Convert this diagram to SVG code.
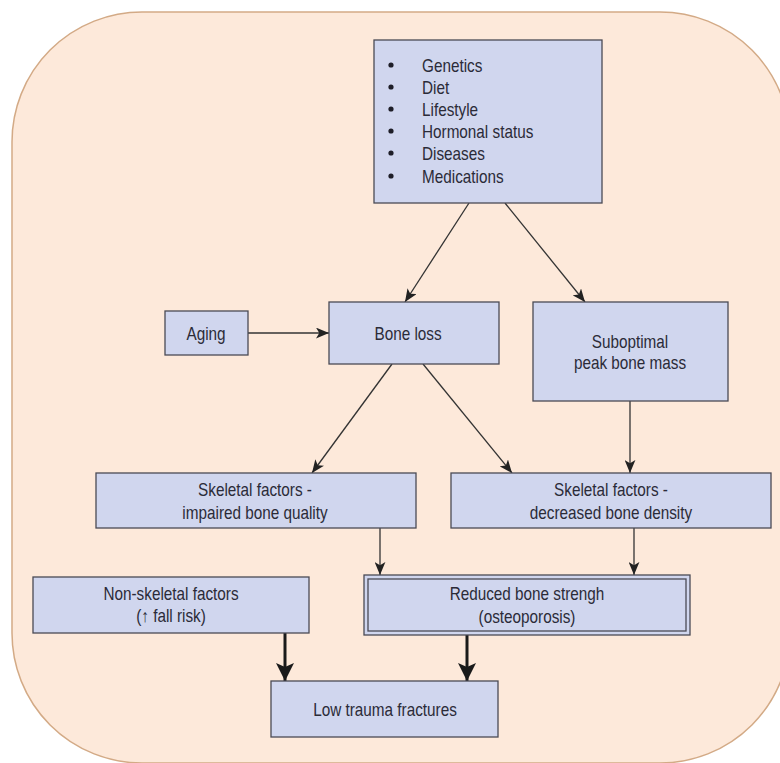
<svg xmlns="http://www.w3.org/2000/svg" width="780" height="763" viewBox="0 0 780 763">
<style>
.bg{fill:#fde9da;stroke:#d3aa86;stroke-width:1.5}
.box{fill:#d0d6ee;stroke:#4a4a55;stroke-width:1.3}
.t{font-family:"Liberation Sans",Arial,sans-serif;font-size:18px;fill:#2b2b38;text-anchor:middle}
.tl{text-anchor:start}
.c{stroke:#333;stroke-width:1.3;fill:none}
.ck{stroke:#1a1a1a;stroke-width:3;fill:none}
</style>
<defs>
<marker id="a" viewBox="0 0 12 10" refX="12" refY="5" markerWidth="13" markerHeight="11" markerUnits="userSpaceOnUse" orient="auto">
<path d="M0,0 L12,5 L0,10 L3,5 Z" fill="#222"/>
</marker>
<marker id="ak" viewBox="0 0 18 18" refX="18" refY="9" markerWidth="20" markerHeight="18" markerUnits="userSpaceOnUse" orient="auto">
<path d="M0,0 L18,9 L0,18 L4,9 Z" fill="#1a1a1a"/>
</marker>
</defs>
<rect class="bg" x="12" y="12" width="778" height="751" rx="130" ry="130"/>
<g id="connectors">
<line class="c" x1="469" y1="203" x2="405" y2="302" marker-end="url(#a)"/>
<line class="c" x1="505" y1="203" x2="585" y2="302" marker-end="url(#a)"/>
<line class="c" x1="248" y1="333" x2="329" y2="333" marker-end="url(#a)"/>
<line class="c" x1="392" y1="364" x2="312" y2="473" marker-end="url(#a)"/>
<line class="c" x1="423" y1="364" x2="512" y2="473" marker-end="url(#a)"/>
<line class="c" x1="630" y1="401" x2="630" y2="473" marker-end="url(#a)"/>
<line class="c" x1="380" y1="528" x2="380" y2="575" marker-end="url(#a)"/>
<line class="c" x1="634" y1="528" x2="634" y2="575" marker-end="url(#a)"/>
<line class="ck" x1="285" y1="633" x2="285" y2="681" marker-end="url(#ak)"/>
<line class="ck" x1="467" y1="635" x2="467" y2="681" marker-end="url(#ak)"/>
</g>
<g id="factors">
<rect class="box" x="374" y="40" width="228" height="163"/>
<g fill="#1e1e28"><circle cx="391" cy="65" r="2.6"/><circle cx="391" cy="87" r="2.6"/><circle cx="391" cy="109" r="2.6"/><circle cx="391" cy="131" r="2.6"/><circle cx="391" cy="153" r="2.6"/><circle cx="391" cy="176" r="2.6"/></g>
<text class="t tl" transform="translate(422,72) scale(0.85,1)">Genetics</text>
<text class="t tl" transform="translate(422,94) scale(0.85,1)">Diet</text>
<text class="t tl" transform="translate(422,116) scale(0.85,1)">Lifestyle</text>
<text class="t tl" transform="translate(422,138) scale(0.85,1)">Hormonal status</text>
<text class="t tl" transform="translate(422,160) scale(0.85,1)">Diseases</text>
<text class="t tl" transform="translate(422,183) scale(0.85,1)">Medications</text>
</g>
<g id="aging">
<rect class="box" x="165" y="311" width="83" height="44"/>
<text class="t" transform="translate(206,340) scale(0.85,1)">Aging</text>
</g>
<g id="boneloss">
<rect class="box" x="329" y="302" width="170" height="62"/>
<text class="t" transform="translate(408,340) scale(0.85,1)">Bone loss</text>
</g>
<g id="suboptimal">
<rect class="box" x="533" y="302" width="195" height="99"/>
<text class="t" transform="translate(630,348) scale(0.85,1)">Suboptimal</text>
<text class="t" transform="translate(630,369) scale(0.85,1)">peak bone mass</text>
</g>
<g id="impaired">
<rect class="box" x="96" y="473" width="320" height="55"/>
<text class="t" transform="translate(255,496) scale(0.85,1)">Skeletal factors -</text>
<text class="t" transform="translate(255,519) scale(0.85,1)">impaired bone quality</text>
</g>
<g id="decreased">
<rect class="box" x="451" y="473" width="320" height="55"/>
<text class="t" transform="translate(611,496) scale(0.85,1)">Skeletal factors -</text>
<text class="t" transform="translate(611,519) scale(0.85,1)">decreased bone density</text>
</g>
<g id="nonskeletal">
<rect class="box" x="33" y="577" width="276" height="56"/>
<text class="t" transform="translate(171,600) scale(0.85,1)">Non-skeletal factors</text>
<text class="t" transform="translate(171,622) scale(0.85,1)">(↑ fall risk)</text>
</g>
<g id="reduced">
<rect class="box" x="364" y="575" width="326" height="60"/>
<rect class="box" x="368" y="579" width="318" height="52" fill="none"/>
<text class="t" transform="translate(527,600) scale(0.85,1)">Reduced bone strengh</text>
<text class="t" transform="translate(527,623) scale(0.85,1)">(osteoporosis)</text>
</g>
<g id="fractures">
<rect class="box" x="271" y="681" width="227" height="56"/>
<text class="t" transform="translate(385,716) scale(0.85,1)">Low trauma fractures</text>
</g>
</svg>
